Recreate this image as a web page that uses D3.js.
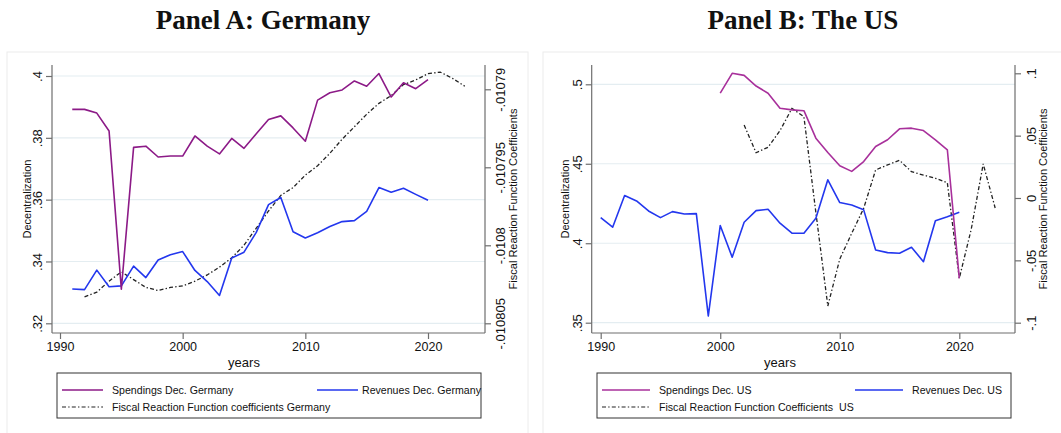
<!DOCTYPE html>
<html>
<head>
<meta charset="utf-8">
<script src="https://cdn.jsdelivr.net/npm/d3@7"></script>
<style>
  body { margin: 0; background: #fff; }
  svg { display: block; }
  text { font-family: "Liberation Sans", Arial, sans-serif; fill: #111; }
</style>
</head>
<body>
<svg id="chart" width="1061" height="433"></svg>
<script>
// ---------- Data ----------
const xTicks = [1990, 2000, 2010, 2020];

// Germany
const deSpendYears = d3.range(1991, 2021);
const deSpending = [0.3892, 0.3892, 0.3880, 0.3822, 0.3310, 0.3769, 0.3773, 0.3738, 0.3741, 0.3741,
                    0.3806, 0.3773, 0.3748, 0.3798, 0.3766, 0.3813, 0.3859, 0.3871, 0.3832, 0.3789,
                    0.3922, 0.3946, 0.3955, 0.3984, 0.3967, 0.4008, 0.3932, 0.3978, 0.3959, 0.3988];
const deRevenueYears = d3.range(1991, 2021);
const deRevenue = [0.3311, 0.3309, 0.3372, 0.3318, 0.3321, 0.3385, 0.3348, 0.3405, 0.3422, 0.3432,
                   0.3371, 0.3335, 0.3290, 0.3411, 0.3430, 0.3494, 0.3584, 0.3607, 0.3496, 0.3476,
                   0.3493, 0.3513, 0.3529, 0.3532, 0.3562, 0.3639, 0.3624, 0.3637, 0.3617, 0.3598];
const deFiscalYears = d3.range(1992, 2024);
const deFiscal = [-0.0108033, -0.0108030, -0.0108023, -0.0108017, -0.0108022, -0.0108027, -0.0108029, -0.0108027,
                  -0.0108026, -0.0108023, -0.0108019, -0.0108014, -0.0108008, -0.0108000, -0.0107989, -0.0107978,
                  -0.0107968, -0.0107963, -0.0107955, -0.0107949, -0.0107941, -0.0107932, -0.0107924, -0.0107916,
                  -0.0107909, -0.0107904, -0.0107897, -0.0107894, -0.0107890, -0.0107889, -0.0107893, -0.0107898];
const deLeftTicks = [0.32, 0.34, 0.36, 0.38, 0.40];
const deLeftLabels = [".32", ".34", ".36", ".38", ".4"];
const deRightTicks = [-0.010805, -0.0108, -0.010795, -0.01079];
const deRightLabels = ["-.010805", "-.0108", "-.010795", "-.01079"];

// United States
const usSpendYears = d3.range(2000, 2021);
const usSpending = [0.4944, 0.5069, 0.5056, 0.4989, 0.4944, 0.4849, 0.4839, 0.4834, 0.4661, 0.4571,
                    0.4487, 0.4452, 0.4514, 0.4609, 0.4651, 0.4720, 0.4724, 0.4709, 0.4651, 0.4588, 0.3779];
const usRevenueYears = d3.range(1990, 2021);
const usRevenue = [0.4161, 0.4101, 0.4300, 0.4266, 0.4203, 0.4161, 0.4199, 0.4184, 0.4186, 0.3542,
                   0.4111, 0.3912, 0.4132, 0.4205, 0.4214, 0.4126, 0.4063, 0.4063, 0.4157, 0.4399,
                   0.4256, 0.4241, 0.4210, 0.3958, 0.3941, 0.3937, 0.3975, 0.3884, 0.4142, 0.4167, 0.4195];
const usFiscalYears = d3.range(2002, 2024);
const usFiscal = [0.0585, 0.0363, 0.0407, 0.0540, 0.0719, 0.0652, -0.0115, -0.0866, -0.0490, -0.0283,
                  -0.0083, 0.0225, 0.0265, 0.0302, 0.0211, 0.0184, 0.0158, 0.0123, -0.0644, -0.0250,
                  0.0273, -0.0080];
const usLeftTicks = [0.35, 0.40, 0.45, 0.50];
const usLeftLabels = [".35", ".4", ".45", ".5"];
const usRightTicks = [-0.1, -0.05, 0, 0.05, 0.1];
const usRightLabels = ["-.1", "-.05", "0", ".05", ".1"];

// ---------- Drawing ----------
const svg = d3.select("#chart");
const zip = (xs, vs) => xs.map((x, i) => ({ x, v: vs[i] }));

const panels = [
  {
    title: "Panel A: Germany", titleX: 263,
    frame: [7, 52, 521, 400],
    left: 52, right: 485, top: 65, bottom: 333,
    xRange: [60, 428], yLRange: [323.3, 76], yRRange: [323.3, 89.3],
    yLDomain: [0.32, 0.40], yRDomain: [-0.010805, -0.01079],
    leftTicks: deLeftTicks, leftLabels: deLeftLabels,
    rightTicks: deRightTicks, rightLabels: deRightLabels,
    spend: zip(deSpendYears, deSpending), revenue: zip(deRevenueYears, deRevenue),
    fiscal: zip(deFiscalYears, deFiscal),
    spendColor: "#8c1a87",
    leftTitleX: 31, rightTitleX: 517, leftLabelOff: -10, rightLabelOff: 20,
    legend: { x: 57, y: 373, w: 424, h: 45, col2: 317,
      items: ["Spendings Dec. Germany", "Revenues Dec. Germany", "Fiscal Reaction Function coefficients Germany"],
      sampleW: 41, gaps: [9, 4, 9] }
  },
  {
    title: "Panel B: The US", titleX: 803,
    frame: [543, 52, 530, 400],
    left: 591.7, right: 1015, top: 65, bottom: 333,
    xRange: [600.7, 959.3], yLRange: [322.7, 84.3], yRRange: [322.7, 73.3],
    yLDomain: [0.35, 0.50], yRDomain: [-0.1, 0.1],
    leftTicks: usLeftTicks, leftLabels: usLeftLabels,
    rightTicks: usRightTicks, rightLabels: usRightLabels,
    spend: zip(usSpendYears, usSpending), revenue: zip(usRevenueYears, usRevenue),
    fiscal: zip(usFiscalYears, usFiscal),
    spendColor: "#a8309b",
    leftTitleX: 569, rightTitleX: 1047, leftLabelOff: -10, rightLabelOff: 21,
    legend: { x: 597, y: 373, w: 414, h: 45, col2: 855,
      items: ["Spendings Dec. US", "Revenues Dec. US", "Fiscal Reaction Function Coefficients  US"],
      sampleW: 48, gaps: [9, 9, 9] }
  }
];

const blue = "#2337ee";
const axisColor = "#6e6e6e";
const gridColor = "#e4edf1";
const dashDot = "4,2.2,1.4,2.2";

panels.forEach(p => {
  const g = svg.append("g");

  // outer graph region
  g.append("rect").attr("x", p.frame[0]).attr("y", p.frame[1])
    .attr("width", p.frame[2]).attr("height", p.frame[3])
    .attr("fill", "#fff").attr("stroke", "#ececec").attr("stroke-width", 1);

  // title
  svg.append("text").attr("x", p.titleX).attr("y", 29)
    .attr("text-anchor", "middle")
    .style("font-family", "'Liberation Serif', 'Times New Roman', serif")
    .style("font-weight", "bold").style("font-size", "27px")
    .text(p.title);

  const x = d3.scaleLinear().domain([1990, 2020]).range(p.xRange);
  const yL = d3.scaleLinear().domain(p.yLDomain).range(p.yLRange);
  const yR = d3.scaleLinear().domain(p.yRDomain).range(p.yRRange);

  // gridlines
  g.append("g").selectAll("line").data(p.leftTicks).join("line")
    .attr("x1", p.left).attr("x2", p.right)
    .attr("y1", d => yL(d)).attr("y2", d => yL(d))
    .attr("stroke", gridColor).attr("stroke-width", 1.2);

  // axes lines
  g.append("line").attr("x1", p.left).attr("x2", p.left).attr("y1", p.top).attr("y2", p.bottom)
    .attr("stroke", axisColor).attr("stroke-width", 1.2);
  g.append("line").attr("x1", p.right).attr("x2", p.right).attr("y1", p.top).attr("y2", p.bottom)
    .attr("stroke", axisColor).attr("stroke-width", 1.2);
  g.append("line").attr("x1", p.left).attr("x2", p.right).attr("y1", p.bottom).attr("y2", p.bottom)
    .attr("stroke", axisColor).attr("stroke-width", 1.2);

  // left axis
  const la = g.append("g").attr("transform", `translate(${p.left},0)`)
    .call(d3.axisLeft(yL).tickValues(p.leftTicks).tickFormat((d, i) => p.leftLabels[i]).tickSize(6));
  la.select(".domain").remove();
  la.selectAll(".tick line").attr("stroke", axisColor).attr("stroke-width", 1.2);
  la.selectAll(".tick text")
    .attr("transform", "rotate(-90)").attr("x", 0).attr("y", p.leftLabelOff).attr("dy", 0)
    .attr("text-anchor", "middle").style("font-size", "13px").attr("fill", "#111");

  // right axis
  const ra = g.append("g").attr("transform", `translate(${p.right},0)`)
    .call(d3.axisRight(yR).tickValues(p.rightTicks).tickFormat((d, i) => p.rightLabels[i]).tickSize(6));
  ra.select(".domain").remove();
  ra.selectAll(".tick line").attr("stroke", axisColor).attr("stroke-width", 1.2);
  ra.selectAll(".tick text")
    .attr("transform", "rotate(-90)").attr("x", 0).attr("y", p.rightLabelOff).attr("dy", 0)
    .attr("text-anchor", "middle").style("font-size", "13px").attr("fill", "#111");

  // bottom axis
  const ba = g.append("g").attr("transform", `translate(0,${p.bottom})`)
    .call(d3.axisBottom(x).tickValues(xTicks).tickFormat(d3.format("d")).tickSize(6));
  ba.select(".domain").remove();
  ba.selectAll(".tick line").attr("stroke", axisColor).attr("stroke-width", 1.2);
  ba.selectAll(".tick text").style("font-size", "12.5px").attr("fill", "#111").attr("y", 9);

  // axis titles
  const midY = (p.top + p.bottom) / 2;
  g.append("text").attr("transform", `translate(${p.leftTitleX},${midY}) rotate(-90)`)
    .attr("text-anchor", "middle").style("font-size", "11px").text("Decentralization");
  g.append("text").attr("transform", `translate(${p.rightTitleX},${midY}) rotate(-90)`)
    .attr("text-anchor", "middle").style("font-size", "11px").text("Fiscal Reaction Function Coefficients");
  g.append("text").attr("x", (p.xRange[0] + p.xRange[1]) / 2).attr("y", 367)
    .attr("text-anchor", "middle").style("font-size", "13px").text("years");

  // series
  const lineL = d3.line().x(d => x(d.x)).y(d => yL(d.v));
  const lineR = d3.line().x(d => x(d.x)).y(d => yR(d.v));

  g.append("path").datum(p.fiscal).attr("d", lineR)
    .attr("fill", "none").attr("stroke", "#222").attr("stroke-width", 1.3)
    .attr("stroke-dasharray", dashDot);
  g.append("path").datum(p.revenue).attr("d", lineL)
    .attr("fill", "none").attr("stroke", blue).attr("stroke-width", 1.6)
    .attr("stroke-linejoin", "round");
  g.append("path").datum(p.spend).attr("d", lineL)
    .attr("fill", "none").attr("stroke", p.spendColor).attr("stroke-width", 1.6)
    .attr("stroke-linejoin", "round");

  // legend
  const L = p.legend;
  const lg = g.append("g");
  lg.append("rect").attr("x", L.x).attr("y", L.y).attr("width", L.w).attr("height", L.h)
    .attr("fill", "#fff").attr("stroke", "#333").attr("stroke-width", 1);
  const row1 = L.y + 17, row2 = L.y + 34;
  const sx = L.x + 5;
  const entries = [
    { x: sx, y: row1, color: p.spendColor, dash: null, label: L.items[0], gap: L.gaps[0] },
    { x: L.col2, y: row1, color: blue, dash: null, label: L.items[1], gap: L.gaps[1] },
    { x: sx, y: row2, color: "#222", dash: dashDot, label: L.items[2], gap: L.gaps[2] }
  ];
  entries.forEach(e => {
    lg.append("line").attr("x1", e.x).attr("x2", e.x + L.sampleW)
      .attr("y1", e.y).attr("y2", e.y)
      .attr("stroke", e.color).attr("stroke-width", e.dash ? 1.2 : 1.6)
      .attr("stroke-dasharray", e.dash);
    lg.append("text").attr("x", e.x + L.sampleW + e.gap).attr("y", e.y + 4)
      .style("font-size", "10.6px").style("white-space", "pre").text(e.label);
  });
});
</script>
</body>
</html>
